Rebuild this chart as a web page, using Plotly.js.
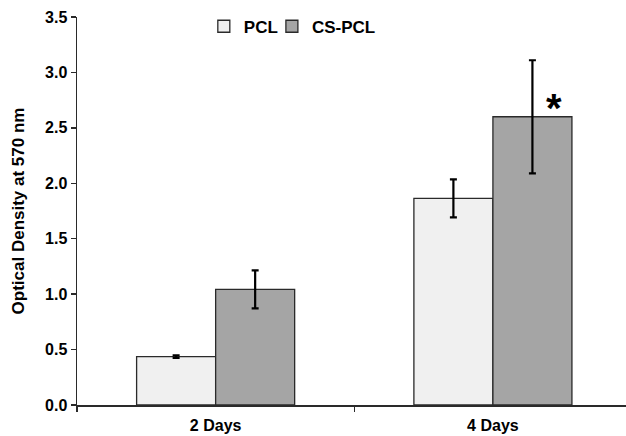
<!DOCTYPE html>
<html>
<head>
<meta charset="utf-8">
<script src="https://cdn.plot.ly/plotly-3.0.1.min.js"></script>
<style>html,body{margin:0;padding:0;background:#fff;}#chart{width:626px;height:436px;}</style>
</head>
<body>
<div id="chart"></div>
<script>
const categories = ["2 Days", "4 Days"];
const seriesNames = ["PCL", "CS-PCL"];
const pclValues = [0.436, 1.864];
const pclErrors = [0.012, 0.172];
const cspclValues = [1.043, 2.60];
const cspclErrors = [0.172, 0.51];
const yTicks = [0, 0.5, 1.0, 1.5, 2.0, 2.5, 3.0, 3.5];
const yTickLabels = ["0.0", "0.5", "1.0", "1.5", "2.0", "2.5", "3.0", "3.5"];
const significanceMarks = [{category: "4 Days", y: 2.68, text: "*"}];

const lineCol = "#2a2a2a";
const errStyle = {type: "data", visible: true, color: "#000", thickness: 2.2, width: 3.5};

const traces = [
  {type: "bar", name: seriesNames[0], x: categories, y: pclValues, legend: "legend",
   error_y: Object.assign({array: pclErrors}, errStyle),
   marker: {color: "#f0f0f0", line: {color: lineCol, width: 1.3}}},
  {type: "bar", name: seriesNames[1], x: categories, y: cspclValues, legend: "legend2",
   error_y: Object.assign({array: cspclErrors}, errStyle),
   marker: {color: "#a5a5a5", line: {color: lineCol, width: 1.3}}}
];

const legendBase = {orientation: "h", xanchor: "left", y: 0.975, yanchor: "middle",
  font: {size: 17, weight: "bold"}, itemwidth: 30, bgcolor: "rgba(0,0,0,0)"};

const layout = {
  width: 626, height: 436,
  margin: {l: 77, r: 0, t: 17, b: 31},
  paper_bgcolor: "#fff", plot_bgcolor: "#fff",
  font: {family: "Arial, 'Liberation Sans', sans-serif", color: "#000", size: 16},
  barmode: "group", bargap: 0.43, bargroupgap: 0,
  showlegend: true,
  legend: Object.assign({x: 0.231}, legendBase),
  legend2: Object.assign({x: 0.355}, legendBase),
  xaxis: {type: "category", range: [-0.5, 1.48], showline: true, linecolor: lineCol, linewidth: 1.5,
          ticks: "outside", tickson: "boundaries", ticklen: 5, tickcolor: lineCol, tickwidth: 1.5,
          ticklabelstandoff: 5, automargin: false,
          showgrid: false, zeroline: false, tickfont: {size: 16, weight: "bold"}, fixedrange: true},
  yaxis: {range: [0, 3.5], tickvals: yTicks, ticktext: yTickLabels, showline: true, linecolor: lineCol,
          linewidth: 1.5, ticks: "outside", ticklen: 5, tickcolor: lineCol, tickwidth: 1.5,
          automargin: true,
          showgrid: false, zeroline: false, tickfont: {size: 16, weight: "bold"},
          title: {text: "Optical Density at 570 nm", font: {size: 17, weight: "bold"}, standoff: 16}},
  annotations: significanceMarks.map(m => ({
    x: m.category, y: m.y, xref: "x", yref: "y", text: m.text, showarrow: false,
    xshift: 61, font: {size: 40, weight: "bold", color: "#000"}
  }))
};

Plotly.newPlot("chart", traces, layout, {displayModeBar: false, staticPlot: true});
</script>
</body>
</html>
